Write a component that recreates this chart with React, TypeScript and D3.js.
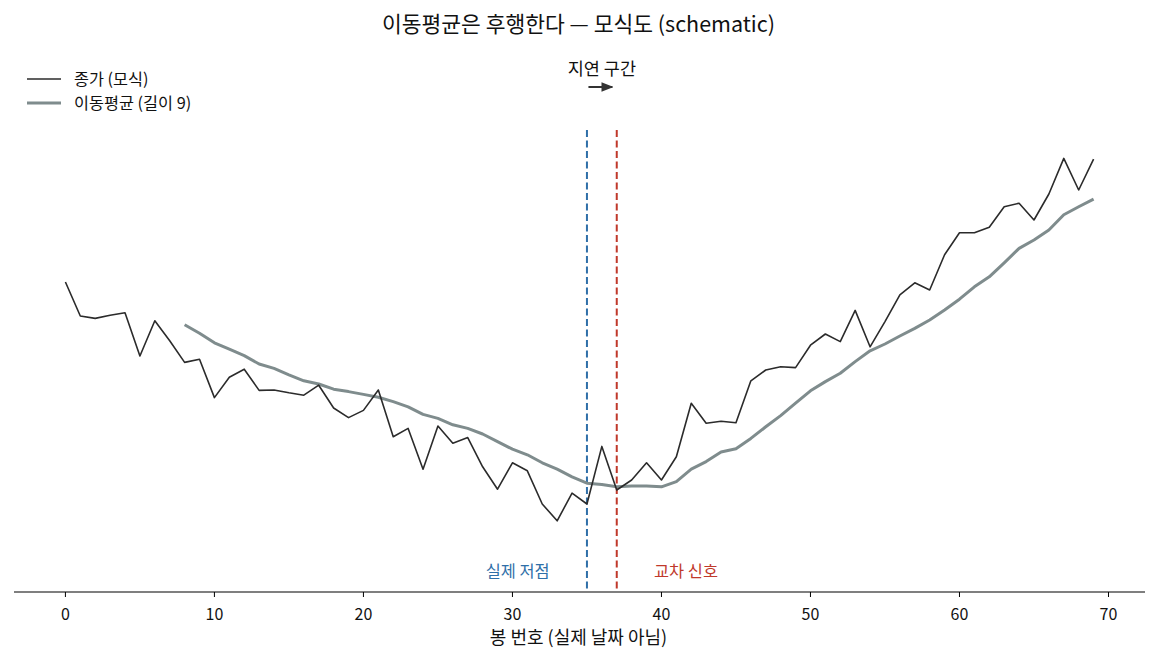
import React from "react";
import { scaleLinear, line } from "d3";

// 종가 (모식)
const price = [
    79.5, 71, 70.4, 71.2, 71.8, 61, 69.8, 64.8, 59.4, 60.2,
    50.6, 55.7, 57.7, 52.4, 52.5, 51.8, 51.2, 53.7, 48, 45.6,
    47.4, 52.5, 40.8, 42.9, 32.7, 43.5, 39.2, 40.6, 33.3, 27.7,
    34.3, 32.3, 24, 19.8, 26.7, 24, 38.4, 27.5, 30, 34.3,
    30, 35.8, 49.2, 44.2, 44.7, 44.3, 54.8, 57.5, 58.3, 58.1,
    63.7, 66.5, 64.6, 72.4, 63.3, 69.6, 76.3, 79.3, 77.5, 86.3,
    91.8, 91.8, 93.2, 98.3, 99.2, 95, 101.5, 110.4, 102.5, 110.2,
];

// 이동평균 (길이 9), starts at bar 8
const maStart = 8;
const movingAvg = [
    68.8, 66.7, 64.3, 62.7, 61.1, 59, 57.9, 56.3, 54.8, 54,
    52.7, 52.1, 51.4, 50.7, 49.6, 48.3, 46.4, 45.4, 43.8, 42.9,
    41.5, 39.6, 37.7, 36.3, 34.3, 32.7, 30.8, 29.2, 28.9, 28.3,
    28.5, 28.5, 28.3, 29.6, 32.7, 34.6, 37, 37.8, 40.4, 43.3,
    46.1, 49.2, 52.3, 54.6, 56.7, 59.6, 62.3, 64, 66, 67.9,
    70, 72.5, 75.2, 78.3, 80.8, 84.3, 87.9, 90, 92.5, 96.3,
    98.3, 100.2,
];

const xTicks = [0, 10, 20, 30, 40, 50, 60, 70];
const trueLow = 35;
const crossSignal = 37;

const W = 1157;
const H = 662;
const FONT = "'Noto Sans CJK KR', 'Noto Sans', sans-serif";

const App: React.FC = () => {
    const x = scaleLinear().domain([-3.45, 72.45]).range([14, 1145]);
    const y = scaleLinear().domain([2, 138.75]).range([592, 45]);

    const priceLine = line<number>()
        .x((_, i) => x(i))
        .y(d => y(d));
    const maLine = line<number>()
        .x((_, i) => x(i + maStart))
        .y(d => y(d));

    const baseY = y(2);
    const lineTop = 130;
    const blue = "#2f6fa8";
    const red = "#c0392b";

    return (
        <svg
            width={W}
            height={H}
            style={{ position: "absolute", left: 0, top: 0, background: "#fff" }}
            fontFamily={FONT}
        >
            <defs>
                <marker
                    id="arr"
                    viewBox="0 0 10 10"
                    refX="9"
                    refY="5"
                    markerWidth="6"
                    markerHeight="6"
                    orient="auto"
                >
                    <path d="M0,1 L10,5 L0,9 Z" fill="#333" />
                </marker>
            </defs>

            <text x={W / 2} y={24} dy="0.35em" textAnchor="middle" fontSize={21.5} fill="#111">
                이동평균은 후행한다 — 모식도 (schematic)
            </text>

            {/* 지연 구간 annotation */}
            <text
                x={x((trueLow + crossSignal) / 2)}
                y={69}
                dy="0.35em"
                textAnchor="middle"
                fontSize={17.5}
                fill="#111"
            >
                지연 구간
            </text>
            <line
                x1={x(trueLow + 0.1)}
                x2={x(crossSignal - 0.3)}
                y1={87}
                y2={87}
                stroke="#333"
                strokeWidth={2}
                markerEnd="url(#arr)"
            />

            {/* vertical markers */}
            <line
                x1={x(trueLow)}
                x2={x(trueLow)}
                y1={lineTop}
                y2={baseY}
                stroke={blue}
                strokeWidth={2}
                strokeDasharray="7,3.5"
            />
            <line
                x1={x(crossSignal)}
                x2={x(crossSignal)}
                y1={lineTop}
                y2={baseY}
                stroke={red}
                strokeWidth={2}
                strokeDasharray="7,3.5"
            />

            <path
                d={maLine(movingAvg) || ""}
                fill="none"
                stroke="#7f8c8d"
                strokeWidth={3}
                strokeLinejoin="round"
            />
            <path
                d={priceLine(price) || ""}
                fill="none"
                stroke="#2b2b2b"
                strokeWidth={1.6}
                strokeLinejoin="round"
            />

            <text x={x(trueLow - 2.5)} y={571} dy="0.35em" textAnchor="end" fontSize={16.4} fill={blue}>
                실제 저점
            </text>
            <text x={x(crossSignal + 2.5)} y={571} dy="0.35em" textAnchor="start" fontSize={16.4} fill={red}>
                교차 신호
            </text>

            {/* x axis */}
            <line x1={14} x2={1145} y1={baseY} y2={baseY} stroke="#000" strokeWidth={1.1} />
            {xTicks.map(t => (
                <g key={t} transform={`translate(${x(t)},${baseY})`}>
                    <line y2={5} stroke="#000" strokeWidth={1} />
                    <text y={22} dy="0.35em" textAnchor="middle" fontSize={16} fill="#111">
                        {t}
                    </text>
                </g>
            ))}
            <text x={W / 2} y={638} dy="0.35em" textAnchor="middle" fontSize={18} fill="#111">
                봉 번호 (실제 날짜 아님)
            </text>

            {/* legend */}
            <line x1={27} x2={61} y1={79} y2={79} stroke="#2b2b2b" strokeWidth={1.6} />
            <text x={74} y={79} dy="0.35em" fontSize={16.3} fill="#111">
                종가 (모식)
            </text>
            <line x1={27} x2={61} y1={103} y2={103} stroke="#7f8c8d" strokeWidth={3} />
            <text x={74} y={103} dy="0.35em" fontSize={16.3} fill="#111">
                이동평균 (길이 9)
            </text>
        </svg>
    );
};

export default App;
